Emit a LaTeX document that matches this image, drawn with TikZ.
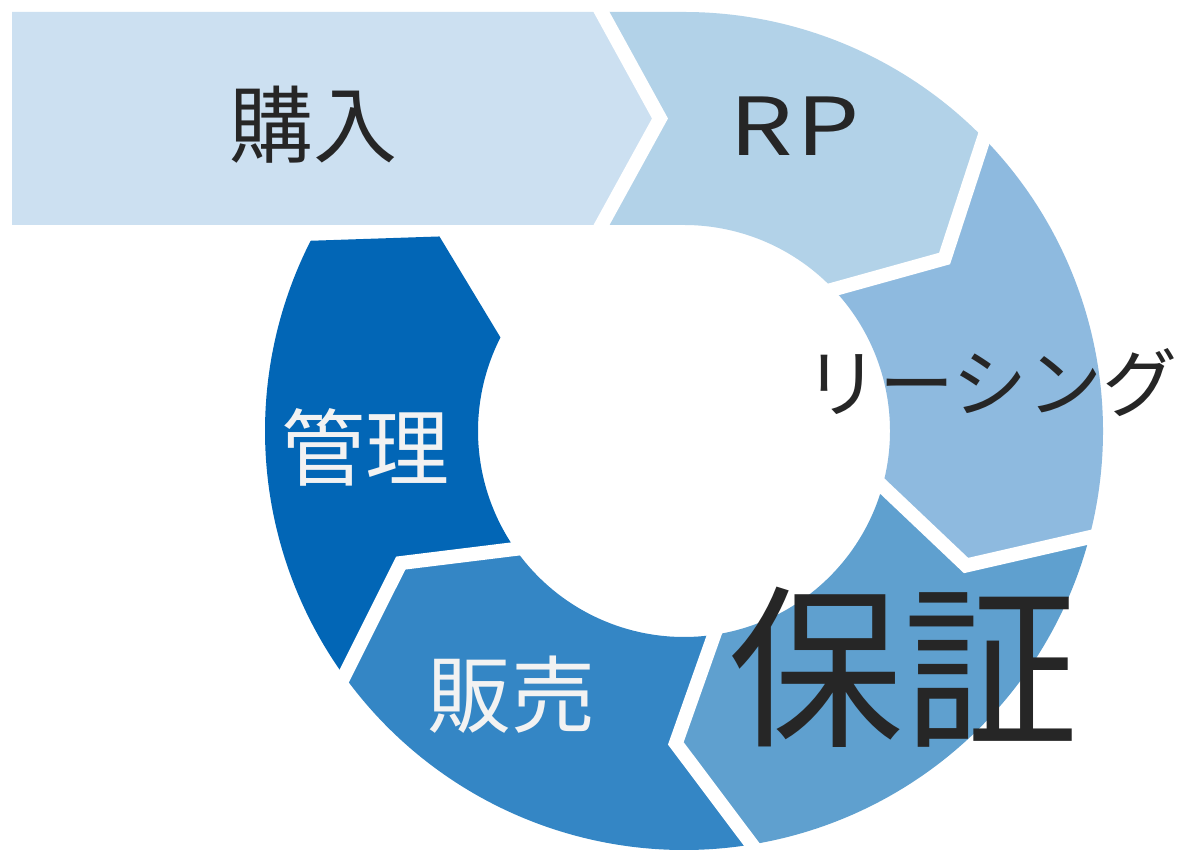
\documentclass[tikz,border=0pt]{standalone}
\usepackage{fontspec}
\newfontfamily\jp{Noto Sans CJK JP}
\definecolor{cbuy}{HTML}{CCE0F1}
\definecolor{crp}{HTML}{B2D2E8}
\definecolor{clease}{HTML}{8EBADF}
\definecolor{cwarr}{HTML}{5FA0CF}
\definecolor{csale}{HTML}{3486C5}
\definecolor{cmgmt}{HTML}{0266B6}
\definecolor{darktext}{HTML}{262626}
\definecolor{lighttext}{HTML}{F2F2F2}
\tikzset{
  gapline/.style={white, line width=14pt, line join=miter},
  darklabel/.style={text=darktext, font=\jp\fontsize{84}{84}\selectfont, inner sep=0pt},
  lightlabel/.style={text=lighttext, font=\jp\fontsize{84}{84}\selectfont, inner sep=0pt}
}
\newcommand{\Rout}{419}
\newcommand{\Rin}{206}
\newcommand{\Rmid}{312.5}
\newcommand{\dlt}{11.5}
% segment from angle #1 to #2 (clockwise), colour #3
\newcommand{\ringseg}[3]{%
  \fill[#3] (#1:\Rout) arc[start angle=#1, end angle=#2, radius=\Rout]
    -- (#2-\dlt:\Rmid) -- (#2:\Rin)
    arc[start angle=#2, end angle=#1, radius=\Rin]
    -- (#1-\dlt:\Rmid) -- cycle;}
\newcommand{\gapat}[1]{%
  \draw[gapline] (#1:\Rout+10) -- (#1-\dlt:\Rmid) -- (#1:\Rin-10);}
\begin{document}
\begin{tikzpicture}[x=1pt,y=1pt]
\useasboundingbox (0,0) rectangle (1181,850);
\fill[white] (0,0) rectangle (1181,850);
% purchase band
\fill[cbuy] (12,838) -- (596,838) -- (660,731.5) -- (596,625) -- (12,625) -- cycle;
\begin{scope}[shift={(684,419)}]
  % RP: straight part + arc
  \fill[crp] (-88,\Rout) -- (0,\Rout) arc[start angle=90, end angle=45, radius=\Rout]
    -- (45-\dlt:\Rmid) -- (45:\Rin) arc[start angle=45, end angle=90, radius=\Rin]
    -- (-88,\Rin) -- (-24,\Rmid) -- cycle;
  \ringseg{45}{-14}{clease}
  \ringseg{-14}{-80}{cwarr}
  \ringseg{-80}{-143.5}{csale}
  \ringseg{-143.5}{-207}{cmgmt}
  \gapat{45}
  \gapat{-14}
  \gapat{-80}
  \gapat{-143.5}
  \draw[gapline] (-88,\Rout+10) -- (-24,\Rmid) -- (-88,\Rin-10);
\end{scope}
% labels
\node[darklabel] (buy) at (313,725) {購入};
\node[darklabel, font=\jp\fontsize{80}{80}\selectfont] (rp) at (795,724) {\scalebox{1.25}[1]{R\kern3pt P}};
\node[darklabel, font=\jp\fontsize{75}{75}\selectfont] (lease) at (991,467) {リーシング};
\node[darklabel, font=\jp\fontsize{175}{175}\selectfont] (warr) at (903,183) {保証};
\node[lightlabel] (mgmt) at (365,403) {管理};
\node[lightlabel] (sale) at (511,155) {販売};
\end{tikzpicture}
\end{document}
